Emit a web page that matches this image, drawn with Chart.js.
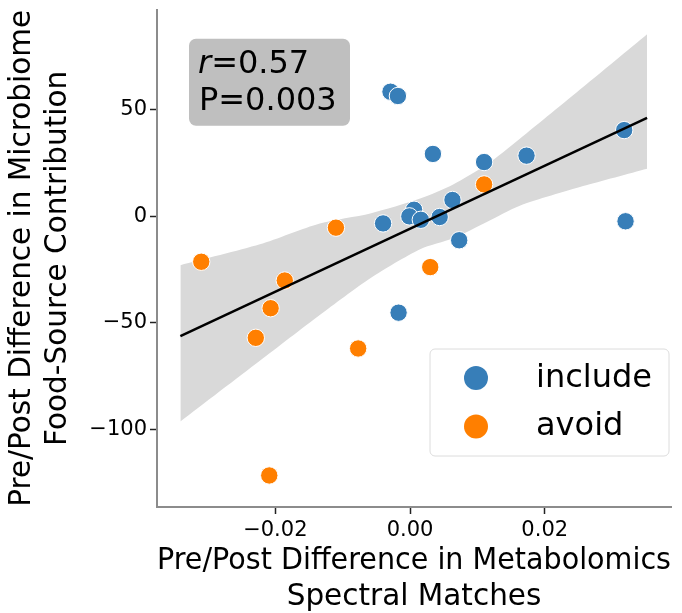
<!DOCTYPE html>
<html><head><meta charset="utf-8">
<script src="https://cdn.jsdelivr.net/npm/chart.js@4/dist/chart.umd.min.js"></script>
<style>html,body{margin:0;padding:0;background:#fff}</style>
</head><body>
<canvas id="c" width="682" height="613"></canvas>
<script>
// ---- data ----
const seriesNames = ['include', 'avoid'];
const includeX = [-0.0029, -0.0018, 0.0034, 0.0110, 0.0173, 0.0318, 0.0320, 0.0063, 0.0006, -0.0001, 0.0016, 0.0044, -0.0040, 0.0073, -0.0017];
const includeY = [58.5, 56.5, 29.3, 25.5, 28.5, 40.5, -2.3, 7.7, 3.1, 0.0, -1.6, -0.3, -3.3, -11.2, -45.2];
const avoidX = [0.0110, -0.0110, -0.0310, -0.0186, -0.0207, -0.0229, -0.0077, 0.0030, -0.0209];
const avoidY = [15.0, -5.3, -21.3, -30.1, -43.1, -57.0, -62.0, -23.8, -121.6];
const fitX = [-0.0341, 0.0352];
const fitY = [-56.2, 46.2];
const bandX = [-0.0341, -0.0223, -0.0134, -0.0059, 0.0015, 0.0064, 0.0114, 0.0163, 0.0257, 0.0352];
const bandUpper = [-22.9, -13.1, -3.3, 1.4, 8.4, 15.0, 24.3, 36.4, 60.7, 85.5];
const bandLower = [-96.3, -67.8, -46.3, -29.0, -15.4, -10.3, -2.6, 5.0, 14.2, 22.4];
const xTickValues = [-0.02, 0.00, 0.02];
const xTickLabels = ['\u22120.02', '0.00', '0.02'];
const yTickValues = [-100, -50, 0, 50];
const yTickLabels = ['\u2212100', '\u221250', '0', '50'];
const xTitle = ['Pre/Post Difference in Metabolomics', 'Spectral Matches'];
const yTitle = ['Pre/Post Difference in Microbiome', 'Food-Source Contribution'];
const statR = '0.57';
const statP = '0.003';

const BLUE = '#377eb8', ORANGE = '#ff7f00';
const FONT = "'DejaVu Sans', sans-serif";
const zip = (xs, ys) => xs.map((x, i) => ({x: x, y: ys[i]}));
const noPad = (s) => { s.paddingTop = 0; s.paddingBottom = 0; s.paddingLeft = 0; s.paddingRight = 0; };

const overlay = {
  id: 'overlay',
  afterDraw(chart) {
    const ctx = chart.ctx, ca = chart.chartArea;
    ctx.save();
    // stats box
    const bx = ca.left + 32, by = ca.top + 29, bw = 161, bh = 87;
    ctx.fillStyle = '#bfbfbf';
    ctx.beginPath(); ctx.roundRect(bx, by, bw, bh, 7); ctx.fill();
    ctx.fillStyle = '#000';
    ctx.textBaseline = 'alphabetic';
    ctx.font = 'italic 32px ' + FONT;
    const rx = bx + 9;
    ctx.fillText('r', rx, by + 34);
    const rw = ctx.measureText('r').width;
    ctx.font = '32px ' + FONT;
    ctx.fillText('=' + statR, rx + rw, by + 34);
    ctx.fillText('P=' + statP, rx + 1, by + 71);
    // legend
    const lw = 239, lh = 107;
    const lx = ca.right - 2 - lw, ly = ca.bottom - 51 - lh;
    ctx.fillStyle = 'rgba(255,255,255,0.85)';
    ctx.strokeStyle = '#dcdcdc';
    ctx.lineWidth = 1;
    ctx.beginPath(); ctx.roundRect(lx, ly, lw, lh, 5); ctx.fill(); ctx.stroke();
    const dsets = chart.data.datasets.filter(d => d.isSeries);
    dsets.forEach((d, i) => {
      const cy = ly + 29 + i * 48.4;
      ctx.fillStyle = d.backgroundColor;
      ctx.beginPath(); ctx.arc(lx + 46, cy, 12, 0, Math.PI * 2); ctx.fill();
      ctx.fillStyle = '#000';
      ctx.font = '32px ' + FONT;
      ctx.textBaseline = 'alphabetic';
      ctx.fillText(d.label, lx + 106, cy + 8.5);
    });
    ctx.restore();
  }
};

new Chart(document.getElementById('c'), {
  type: 'scatter',
  data: {
    datasets: [
      { type: 'line', label: 'fit', data: zip(fitX, fitY), borderColor: '#000', borderWidth: 2.5,
        pointRadius: 0, fill: false, order: 0 },
      { label: seriesNames[0], isSeries: true, data: zip(includeX, includeY), backgroundColor: BLUE,
        borderColor: '#fff', borderWidth: 1, pointRadius: 8.7, order: 1 },
      { label: seriesNames[1], isSeries: true, data: zip(avoidX, avoidY), backgroundColor: ORANGE,
        borderColor: '#fff', borderWidth: 1, pointRadius: 8.7, order: 2 },
      { type: 'line', label: 'ci-upper', data: zip(bandX, bandUpper), borderWidth: 0, borderColor: 'rgba(0,0,0,0)',
        pointRadius: 0, fill: '+1', backgroundColor: '#d9d9d9', tension: 0.25, order: 3 },
      { type: 'line', label: 'ci-lower', data: zip(bandX, bandLower), borderWidth: 0, borderColor: 'rgba(0,0,0,0)',
        pointRadius: 0, fill: false, tension: 0.25, order: 4 }
    ]
  },
  options: {
    responsive: false,
    animation: false,
    layout: { padding: { top: 7.5, right: 11, left: 0, bottom: 0 } },
    plugins: { legend: { display: false }, tooltip: { enabled: false } },
    scales: {
      x: {
        type: 'linear', min: -0.03757, max: 0.03875,
        afterBuildTicks: (s) => { s.ticks = xTickValues.map(v => ({ value: v })); },
        afterFit: (s) => { s.height = 106; noPad(s); },
        ticks: { callback: (v, i) => xTickLabels[i], color: '#000', font: { family: FONT, size: 21 }, padding: 4, maxRotation: 0 },
        grid: { drawOnChartArea: false, drawTicks: true, tickLength: 7, tickColor: '#222', tickWidth: 1.5 },
        border: { display: true, color: '#8c8c8c', width: 2 },
        title: { display: true, text: xTitle, color: '#000', font: { family: FONT, size: 29.5, lineHeight: 1.24 }, padding: { top: 0, bottom: -3 } }
      },
      y: {
        type: 'linear', min: -136.4, max: 97,
        afterBuildTicks: (s) => { s.ticks = yTickValues.map(v => ({ value: v })); },
        afterFit: (s) => { s.width = 157; noPad(s); },
        ticks: { callback: (v, i) => yTickLabels[i], color: '#000', font: { family: FONT, size: 21 }, padding: 3 },
        grid: { drawOnChartArea: false, drawTicks: true, tickLength: 7, tickColor: '#222', tickWidth: 1.5 },
        border: { display: true, color: '#8c8c8c', width: 2 },
        title: { display: true, text: yTitle, color: '#000', font: { family: FONT, size: 29.5, lineHeight: 1.22 }, padding: { top: 4, bottom: 0 } }
      }
    }
  },
  plugins: [overlay]
});
</script>
</body></html>
